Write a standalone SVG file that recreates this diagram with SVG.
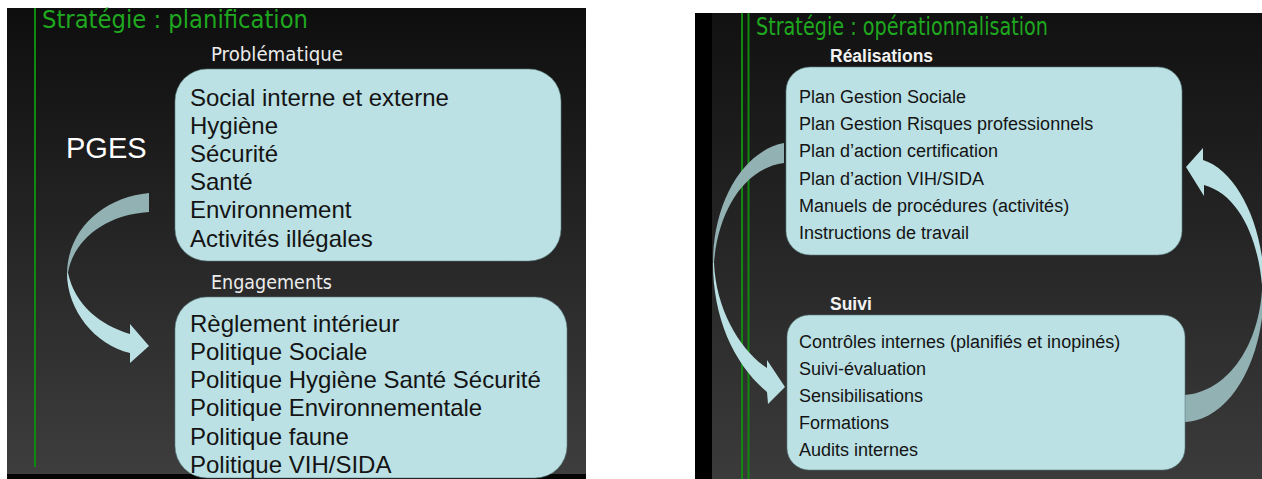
<svg xmlns="http://www.w3.org/2000/svg" width="1262" height="479" viewBox="0 0 1262 479">
  <defs>
    <linearGradient id="bgL" x1="0" y1="0" x2="0" y2="1">
      <stop offset="0" stop-color="#0e0e0e"/>
      <stop offset="1" stop-color="#3e3e3e"/>
    </linearGradient>
    <linearGradient id="bgR" x1="0" y1="0" x2="0" y2="1">
      <stop offset="0" stop-color="#111111"/>
      <stop offset="1" stop-color="#3b3b3b"/>
    </linearGradient>
    <style>
      .box { fill: #bbe1e4; stroke: #5d7d80; stroke-width: 1; stroke-opacity: 0.6; }
      .title { font-family: "DejaVu Sans Condensed", "DejaVu Sans", sans-serif; font-size: 24px; fill: #1fa81f; }
      .lab { font-family: "DejaVu Sans Condensed", "DejaVu Sans", sans-serif; font-size: 19px; fill: #ececec; }
      .labb { font-family: "Liberation Sans", Arial, sans-serif; font-size: 17.5px; font-weight: bold; fill: #f2f2f2; }
      .t24 { font-family: "Liberation Sans", Arial, sans-serif; font-size: 24px; fill: #141414; }
      .t18 { font-family: "Liberation Sans", Arial, sans-serif; font-size: 18px; fill: #141414; }
      .pges { font-family: "Liberation Sans", Arial, sans-serif; font-size: 29px; fill: #ffffff; }
      .dark { fill: #91b1b3; }
      .light { fill: #bbe1e4; }
      .gline { stroke: #0f8a0f; stroke-width: 2; }
    </style>
  </defs>

  <!-- Left panel background -->
  <g id="panel-left">
    <rect x="7" y="8" width="579" height="471" fill="url(#bgL)"/>
    <rect x="7" y="474" width="579" height="5" fill="#050505"/>
    <line class="gline" x1="35" y1="8" x2="35" y2="467" stroke-width="2.5"/>
    <text class="title" x="42" y="28" textLength="266" lengthAdjust="spacingAndGlyphs">Stratégie : planification</text>
  </g>

  <!-- Right panel background -->
  <g id="panel-right">
    <rect x="695" y="13" width="567" height="466" fill="#000000"/>
    <rect x="712" y="13" width="550" height="466" fill="url(#bgR)"/>
    <line class="gline" x1="742" y1="13" x2="742" y2="479"/>
    <line class="gline" x1="748.5" y1="13" x2="748.5" y2="479"/>
    <text class="title" x="756" y="35" textLength="292" lengthAdjust="spacingAndGlyphs">Stratégie : opérationnalisation</text>
  </g>

  <!-- Connectors (curved arrows) -->
  <g id="connectors">
    <!-- Left panel: Problématique -> Engagements -->
    <path class="dark" d="M149,193 C105,197 68,228 67,273 L68,273 C72,245 100,215 149,212 Z"/>
    <path class="light" d="M67,273 C67,310 95,345 130,353 L130,363 L149,346 L130,324 L130,334 C100,325 75,305 68,273 Z"/>
    <!-- Right panel: Réalisations -> Suivi -->
    <path class="dark" d="M784,143 C745,150 713,200 713,263 L714,263 C718,210 745,168 784,163 Z"/>
    <path class="light" d="M713,263 C713,320 735,365 767,392 L768,404 L785,387 L767,360 L767,368 C740,350 716,310 714,263 Z"/>
    <!-- Right panel: Suivi -> Réalisations -->
    <path class="light" d="M1186,167 L1203,148 L1203,160 C1235,170 1262,220 1264,280 L1262,285 C1258,240 1240,195 1204,185 L1204,196 Z"/>
    <path class="dark" d="M1264,280 C1266,360 1230,420 1185,422 L1185,395 C1225,392 1258,350 1262,290 Z"/>
  </g>

  <g id="pges">
    <text class="pges" x="66" y="158">PGES</text>
  </g>

  <g id="problematique">
    <text class="lab" x="211" y="61" textLength="132" lengthAdjust="spacingAndGlyphs">Problématique</text>
    <rect class="box" x="175" y="69" width="386" height="192" rx="32" ry="32"/>
    <text class="t24" x="190" y="106">Social interne et externe</text>
    <text class="t24" x="190" y="134">Hygiène</text>
    <text class="t24" x="190" y="162">Sécurité</text>
    <text class="t24" x="190" y="190">Santé</text>
    <text class="t24" x="190" y="218">Environnement</text>
    <text class="t24" x="190" y="247">Activités illégales</text>
  </g>

  <g id="engagements">
    <text class="lab" x="211" y="289" textLength="121" lengthAdjust="spacingAndGlyphs">Engagements</text>
    <rect class="box" x="175" y="297" width="392" height="181" rx="32" ry="32"/>
    <text class="t24" x="190" y="332">Règlement intérieur</text>
    <text class="t24" x="190" y="360">Politique Sociale</text>
    <text class="t24" x="190" y="388">Politique Hygiène Santé Sécurité</text>
    <text class="t24" x="190" y="416">Politique Environnementale</text>
    <text class="t24" x="190" y="445">Politique faune</text>
    <text class="t24" x="190" y="473">Politique VIH/SIDA</text>
  </g>

  <g id="realisations">
    <text class="labb" x="830" y="62">Réalisations</text>
    <rect class="box" x="786" y="67" width="396" height="188" rx="24" ry="24"/>
    <text class="t18" x="799" y="103">Plan Gestion Sociale</text>
    <text class="t18" x="799" y="130">Plan Gestion Risques professionnels</text>
    <text class="t18" x="799" y="157">Plan d’action certification</text>
    <text class="t18" x="799" y="185">Plan d’action VIH/SIDA</text>
    <text class="t18" x="799" y="212">Manuels de procédures (activités)</text>
    <text class="t18" x="799" y="239">Instructions de travail</text>
  </g>

  <g id="suivi">
    <text class="labb" x="830" y="310">Suivi</text>
    <rect class="box" x="787" y="315" width="398" height="155" rx="22" ry="22"/>
    <text class="t18" x="799" y="348">Contrôles internes (planifiés et inopinés)</text>
    <text class="t18" x="799" y="375">Suivi-évaluation</text>
    <text class="t18" x="799" y="402">Sensibilisations</text>
    <text class="t18" x="799" y="429">Formations</text>
    <text class="t18" x="799" y="456">Audits internes</text>
  </g>
</svg>
